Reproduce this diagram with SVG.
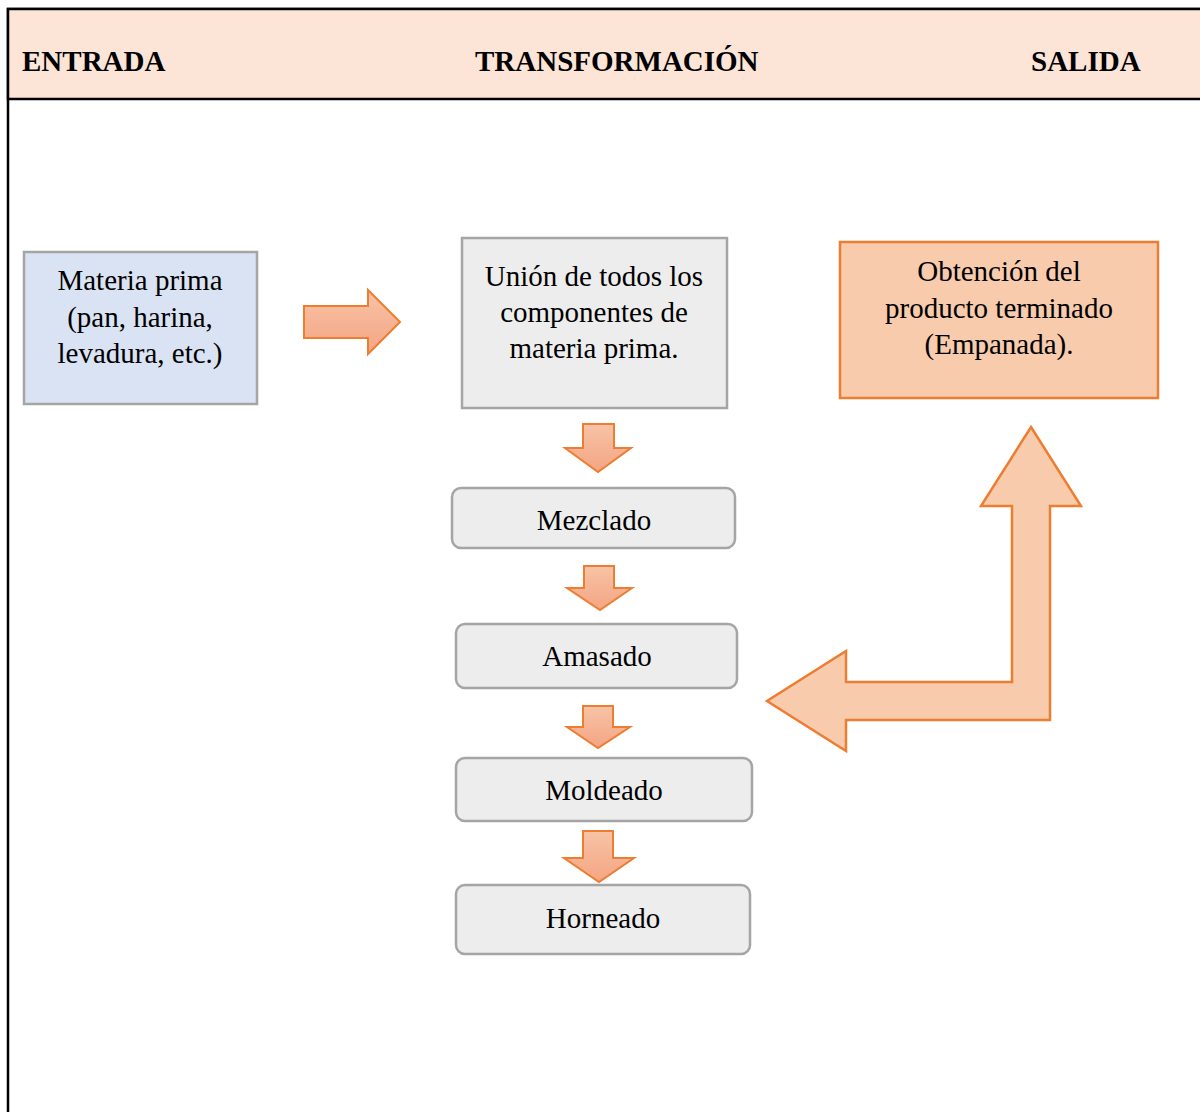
<svg xmlns="http://www.w3.org/2000/svg" width="1200" height="1112" viewBox="0 0 1200 1112">
<defs>
<linearGradient id="ag" x1="0" y1="0" x2="0" y2="1">
<stop offset="0" stop-color="#f7c3a6"/>
<stop offset="1" stop-color="#f4a583"/>
</linearGradient>
<style>
text{font-family:"Liberation Serif","Times New Roman",serif;font-size:29px;fill:#000}
.h{font-weight:bold}
.c{text-anchor:middle}
.arr{fill:url(#ag);stroke:#ed7d31;stroke-width:2}
.step{fill:#ededed;stroke:#a5a5a5;stroke-width:2.5}
</style>
</defs>
<rect x="0" y="0" width="1200" height="1112" fill="#fff"/>
<g id="frame">
<rect x="8" y="9" width="1210" height="1130" fill="#fff" stroke="#000" stroke-width="2.5"/>
<rect x="8" y="9" width="1210" height="90" fill="#fce4d6" stroke="#000" stroke-width="2.5"/>
<text class="h" x="22" y="71">ENTRADA</text>
<text class="h" x="475" y="71">TRANSFORMACIÓN</text>
<text class="h" x="1031" y="71">SALIDA</text>
</g>
<g id="entrada">
<rect x="24" y="252" width="233" height="152" fill="#dae3f3" stroke="#a5a5a5" stroke-width="2.5"/>
<text class="c" x="140" y="290">Materia prima</text>
<text class="c" x="140" y="327">(pan, harina,</text>
<text class="c" x="140" y="363">levadura, etc.)</text>
</g>
<g id="union">
<rect x="462" y="238" width="265" height="170" fill="#ededed" stroke="#a5a5a5" stroke-width="2.5"/>
<text class="c" x="594" y="286">Unión de todos los</text>
<text class="c" x="594" y="322">componentes de</text>
<text class="c" x="594" y="358">materia prima.</text>
</g>
<g id="mezclado">
<rect class="step" x="452" y="488" width="283" height="60" rx="9"/>
<text class="c" x="594" y="530">Mezclado</text>
</g>
<g id="amasado">
<rect class="step" x="456" y="624" width="281" height="64" rx="9"/>
<text class="c" x="597" y="666">Amasado</text>
</g>
<g id="moldeado">
<rect class="step" x="456" y="758" width="296" height="63" rx="9"/>
<text class="c" x="604" y="800">Moldeado</text>
</g>
<g id="horneado">
<rect class="step" x="456" y="885" width="294" height="69" rx="9"/>
<text class="c" x="603" y="928">Horneado</text>
</g>
<g id="salida">
<rect x="840" y="242" width="318" height="156" fill="#f8cbad" stroke="#ed7d31" stroke-width="2.5"/>
<text class="c" x="999" y="281">Obtención del</text>
<text class="c" x="999" y="318">producto terminado</text>
<text class="c" x="999" y="354">(Empanada).</text>
</g>
<g id="connectors">
<polygon class="arr" points="304,306 368,306 368,290 400,322 368,354 368,338 304,338"/>
<polygon class="arr" points="583,424 614,424 614,448 631,448 598,472 565,448 583,448"/>
<polygon class="arr" points="584,566 614,566 614,588 632,588 600,610 567,588 584,588"/>
<polygon class="arr" points="583,706 613,706 613,727 630,727 598,748 567,727 583,727"/>
<polygon class="arr" points="583,831 613,831 613,858 634,858 599,882 564,858 583,858"/>
<polygon points="1031,427 1081,506 1050,506 1050,720 846,720 846,751 767,701 846,651 846,682 1012,682 1012,506 981,506" fill="#f8cbad" stroke="#ed7d31" stroke-width="2.5"/>
</g>
</svg>
